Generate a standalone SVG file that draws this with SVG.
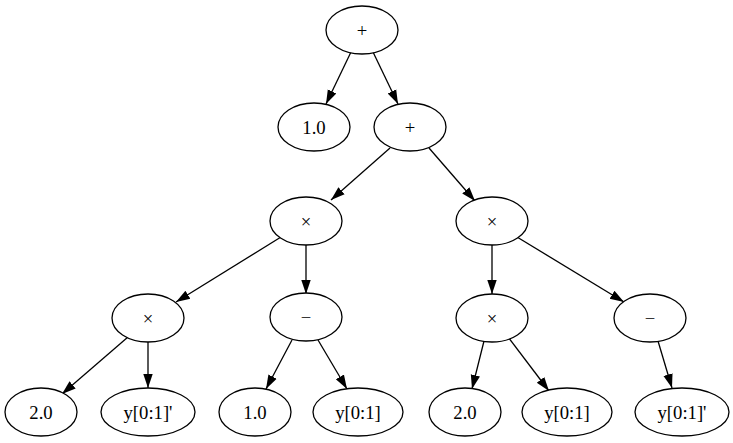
<svg xmlns="http://www.w3.org/2000/svg" width="733" height="443" viewBox="0 0 733 443">
<style>
ellipse{fill:#fff;stroke:#000;stroke-width:1.3}
text{font-family:"Liberation Serif",serif;font-size:18.67px;text-anchor:middle;dominant-baseline:central;fill:#000}
#edges line{stroke:#000;stroke-width:1.3;marker-end:url(#a)}
</style>
<defs><marker id="a" markerUnits="userSpaceOnUse" markerWidth="14" markerHeight="14" viewBox="0 0 14 14" refX="14" refY="7" orient="auto"><path d="M0,2.3L14,7L0,11.7z" fill="#000"/></marker></defs>
<rect width="733" height="443" fill="#fff"/>
<g id="edges">
<line x1="351" y1="52" x2="326" y2="104"/>
<line x1="373" y1="52" x2="398" y2="104"/>
<line x1="390" y1="148" x2="331" y2="200"/>
<line x1="429" y1="148" x2="475" y2="201"/>
<line x1="281" y1="237" x2="176" y2="302"/>
<line x1="306" y1="245" x2="306" y2="294"/>
<line x1="492" y1="245" x2="492" y2="294"/>
<line x1="517" y1="237" x2="624" y2="302"/>
<line x1="128" y1="337" x2="62" y2="394"/>
<line x1="148" y1="342" x2="148" y2="388"/>
<line x1="292" y1="340" x2="266" y2="389"/>
<line x1="318" y1="340" x2="347" y2="389"/>
<line x1="484" y1="341" x2="472" y2="389"/>
<line x1="508" y1="337" x2="549" y2="391"/>
<line x1="658" y1="341" x2="672" y2="388"/>
</g>
<g id="n0"><ellipse cx="362" cy="30" rx="36" ry="24"/><text x="362" y="30">+</text></g>
<g id="n1"><ellipse cx="314" cy="127" rx="36" ry="24"/><text x="314" y="127">1.0</text></g>
<g id="n2"><ellipse cx="410" cy="127" rx="36" ry="24"/><text x="410" y="127">+</text></g>
<g id="n3"><ellipse cx="306" cy="221" rx="36" ry="24"/><text x="306" y="221">×</text></g>
<g id="n4"><ellipse cx="492" cy="221" rx="36" ry="24"/><text x="492" y="221">×</text></g>
<g id="n5"><ellipse cx="148" cy="318" rx="36" ry="24"/><text x="148" y="318">×</text></g>
<g id="n6"><ellipse cx="306" cy="317" rx="36" ry="24"/><text x="306" y="317">−</text></g>
<g id="n7"><ellipse cx="492" cy="318" rx="36" ry="24"/><text x="492" y="318">×</text></g>
<g id="n8"><ellipse cx="650" cy="318" rx="36" ry="24"/><text x="650" y="318">−</text></g>
<g id="n9"><ellipse cx="41" cy="412" rx="36" ry="24"/><text x="41" y="412">2.0</text></g>
<g id="n10"><ellipse cx="148" cy="412" rx="47" ry="24"/><text x="148" y="412">y[0:1]'</text></g>
<g id="n11"><ellipse cx="255" cy="412" rx="36" ry="24"/><text x="255" y="412">1.0</text></g>
<g id="n12"><ellipse cx="358" cy="412" rx="45" ry="24"/><text x="358" y="412">y[0:1]</text></g>
<g id="n13"><ellipse cx="465" cy="412" rx="36" ry="24"/><text x="465" y="412">2.0</text></g>
<g id="n14"><ellipse cx="567" cy="412" rx="45" ry="24"/><text x="567" y="412">y[0:1]</text></g>
<g id="n15"><ellipse cx="682" cy="412" rx="47" ry="24"/><text x="682" y="412">y[0:1]'</text></g>
</svg>
